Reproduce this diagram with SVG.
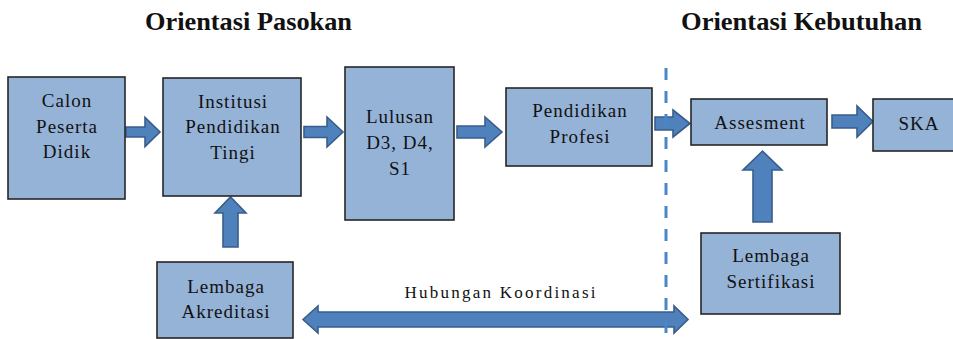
<svg xmlns="http://www.w3.org/2000/svg" width="953" height="339" viewBox="0 0 953 339">
  <style>
    .box { fill: #95b3d7; stroke: #262626; stroke-width: 1.6; }
    .lbl { font-family: "Liberation Serif", "Times New Roman", serif; font-size: 19px; letter-spacing: 1px; fill: #111; text-anchor: middle; }
    .title { font-family: "Liberation Serif", "Times New Roman", serif; font-size: 25px; font-weight: bold; fill: #111; }
    .arr { fill: #4f81bd; stroke: #385d8a; stroke-width: 1.6; stroke-linejoin: miter; }
    .div { stroke: #4a86c8; stroke-width: 3; stroke-dasharray: 12 11; fill: none; }
  </style>
  <rect width="953" height="339" fill="#ffffff"/>

  <text class="title" x="145" y="30" textLength="207" lengthAdjust="spacingAndGlyphs">Orientasi Pasokan</text>
  <text class="title" x="681" y="30" textLength="241" lengthAdjust="spacingAndGlyphs">Orientasi Kebutuhan</text>

  <g id="connectors">
    <path class="arr" d="M126,127 L145,127 L145,117.5 L160,132 L145,146.5 L145,137 L126,137 Z"/>
    <path class="arr" d="M304,126.5 L327,126.5 L327,117 L343,132 L327,147 L327,137.5 L304,137.5 Z"/>
    <path class="arr" d="M457,126 L485,126 L485,117 L502,132 L485,147 L485,138 L457,138 Z"/>
    <path class="arr" d="M655,117 L673,117 L673,110 L690,123.5 L673,137 L673,130 L655,130 Z"/>
    <path class="arr" d="M832,115 L857,115 L857,106 L873,121.5 L857,137 L857,128 L832,128 Z"/>
    <path class="arr" d="M223,247 L223,213 L215,213 L230.5,197 L246,213 L238,213 L238,247 Z"/>
    <path class="arr" d="M753,222 L753,170 L743,170 L762.5,151 L782,170 L772,170 L772,222 Z"/>
    <path class="arr" d="M303,319.5 L318,306 L318,312 L674,312 L674,306 L688,319.5 L674,333 L674,327 L318,327 L318,333 Z"/>
    <text class="lbl" x="500" y="298" style="font-size:17px;letter-spacing:0" textLength="191" lengthAdjust="spacing" text-anchor="middle">Hubungan Koordinasi</text>
  </g>

  <line class="div" x1="666" y1="68" x2="666" y2="339"/>

  <g id="calon">
    <rect class="box" x="8" y="77" width="117" height="122"/>
    <text class="lbl" x="67" y="107">Calon</text>
    <text class="lbl" x="67" y="133">Peserta</text>
    <text class="lbl" x="67" y="158">Didik</text>
  </g>
  <g id="institusi">
    <rect class="box" x="163" y="78" width="138" height="118"/>
    <text class="lbl" x="233" y="108">Institusi</text>
    <text class="lbl" x="233" y="133">Pendidikan</text>
    <text class="lbl" x="233" y="159">Tingi</text>
  </g>
  <g id="lulusan">
    <rect class="box" x="345" y="67" width="109" height="153"/>
    <text class="lbl" x="400" y="123">Lulusan</text>
    <text class="lbl" x="400" y="149">D3, D4,</text>
    <text class="lbl" x="400" y="175">S1</text>
  </g>
  <g id="profesi">
    <rect class="box" x="506" y="88" width="146" height="78"/>
    <text class="lbl" x="580" y="117">Pendidikan</text>
    <text class="lbl" x="580" y="143">Profesi</text>
  </g>
  <g id="assesment">
    <rect class="box" x="691" y="99" width="136" height="46"/>
    <text class="lbl" x="760" y="129">Assesment</text>
  </g>
  <g id="ska">
    <rect class="box" x="873" y="99" width="90" height="52"/>
    <text class="lbl" x="919" y="130">SKA</text>
  </g>
  <g id="akreditasi">
    <rect class="box" x="157" y="262" width="136" height="76"/>
    <text class="lbl" x="226" y="293">Lembaga</text>
    <text class="lbl" x="226" y="318">Akreditasi</text>
  </g>
  <g id="sertifikasi">
    <rect class="box" x="701" y="233" width="139" height="81"/>
    <text class="lbl" x="771" y="262">Lembaga</text>
    <text class="lbl" x="771" y="288">Sertifikasi</text>
  </g>
</svg>
